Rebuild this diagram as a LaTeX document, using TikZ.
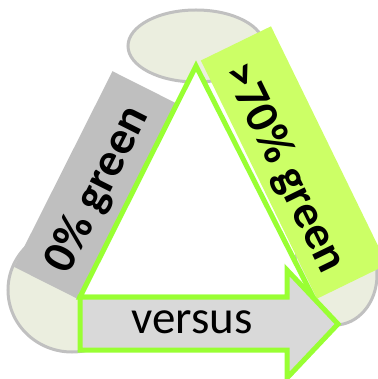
\documentclass[tikz,border=0pt]{standalone}
\usepackage{fontspec}
\setmainfont{Carlito}
\usepackage{tikz}
\usetikzlibrary{positioning}
\definecolor{lidfill}{HTML}{EBEEDF}
\definecolor{lidline}{HTML}{C0C0C0}
\definecolor{bandgray}{HTML}{BFBFBF}
\definecolor{bandlime}{HTML}{CCFF66}
\definecolor{limeline}{HTML}{99FF33}
\definecolor{arrowgray}{HTML}{D9D9D9}
\tikzset{
  lid/.style={draw=lidline, fill=lidfill, line width=3pt},
  band/.style={rectangle, inner sep=0pt, draw=none},
  tri/.style={draw=limeline, fill=white, line width=5pt, line join=miter},
  bigarrow/.style={draw=limeline, fill=arrowgray, line width=5pt, line join=miter},
  lbl/.style={font=\bfseries\fontsize{47pt}{47pt}\selectfont, inner sep=0pt},
  vs/.style={font=\fontsize{47pt}{47pt}\selectfont, inner sep=0pt},
}
\begin{document}
\begin{tikzpicture}[x=1pt,y=-1pt]
\useasboundingbox (0,0) rectangle (377,379);

% ---------- end caps ----------
\draw[lid] (196,46) ellipse [x radius=68pt, y radius=36pt];
\draw[lid] (72,290) ellipse [x radius=64pt, y radius=62pt];
\draw[lid] (335,275) ellipse [x radius=42pt, y radius=50pt];

% ---------- bands ----------
\node[band, fill=bandgray, minimum width=219pt, minimum height=71pt, rotate=63.3] (gb) at (95,185) {};
\node[band, fill=bandlime, minimum width=265pt, minimum height=78pt, rotate=-64] (lb) at (294,162.5) {};

% ---------- triangle ----------
\draw[tri] (196,66) -- (313,297) -- (80,297) -- cycle;

% ---------- arrow ----------
\draw[bigarrow] (80,297) -- (287,297) -- (287,270) -- (338,324)
   -- (287,378) -- (287,350) -- (80,350) -- cycle;

% ---------- labels ----------
\node[lbl, rotate=63.3] (zero) at (98,190) {0\% green};
\node[lbl, rotate=-64] (seventy) at (284,168) {>70\% green};
\node[vs] (versus) at (192,322) {versus};
\end{tikzpicture}
\end{document}
